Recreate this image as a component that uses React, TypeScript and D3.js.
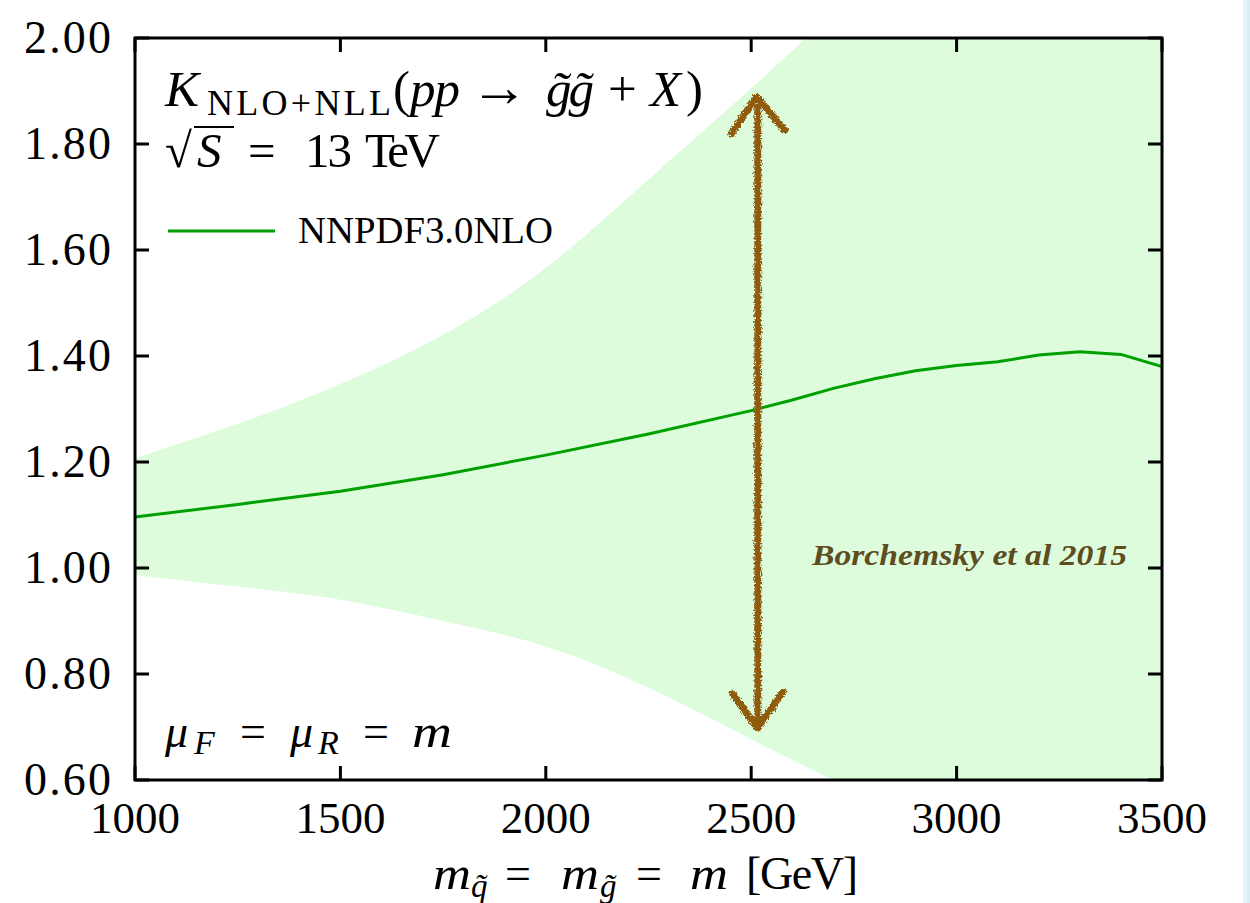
import React from "react";
import * as d3 from "d3";

// ---- data ----
const bandMass = [1000, 1250, 1500, 1750, 2000, 2250, 2500, 2750, 3000, 3250, 3500];
const bandUpper = [1.207, 1.272, 1.347, 1.44, 1.566, 1.733, 1.905, 2.085, 2.27, 2.46, 2.65];
const bandLower = [0.987, 0.965, 0.94, 0.9, 0.852, 0.774, 0.677, 0.58, 0.48, 0.38, 0.28];

const lineMass = [1000, 1250, 1500, 1750, 2000, 2250, 2500, 2600, 2700, 2800, 2900, 3000, 3100, 3200, 3300, 3400, 3500];
const lineK = [1.096, 1.12, 1.145, 1.176, 1.213, 1.253, 1.297, 1.317, 1.339, 1.357, 1.372, 1.382, 1.389, 1.402, 1.408, 1.403, 1.38];

const xTicks = [1000, 1500, 2000, 2500, 3000, 3500];
const yTicks = [0.6, 0.8, 1.0, 1.2, 1.4, 1.6, 1.8, 2.0];

// double-headed arrow annotation (data units)
const arrowShaft = [[2516, 1.87], [2516, 0.715]];
const arrowTopHead = [[2452, 1.82], [2513, 1.889], [2582, 1.826]];
const arrowBottomHead = [[2455, 0.762], [2515, 0.698], [2577, 0.766]];

const W = 1250;
const H = 903;
const left = 135, right = 1162, top = 38, bottom = 780;

export default function App() {
  const x = d3.scaleLinear().domain([1000, 3500]).range([left, right]);
  const y = d3.scaleLinear().domain([0.6, 2.0]).range([bottom, top]);

  const bandData = bandMass.map((m, i) => ({ m, lo: bandLower[i], hi: bandUpper[i] }));
  const area = d3
    .area<{ m: number; lo: number; hi: number }>()
    .x((d) => x(d.m))
    .y0((d) => y(d.lo))
    .y1((d) => y(d.hi))
    .curve(d3.curveNatural);

  const lineData = lineMass.map((m, i) => ({ m, k: lineK[i] }));
  const line = d3
    .line<{ m: number; k: number }>()
    .x((d) => x(d.m))
    .y((d) => y(d.k))
    .curve(d3.curveLinear);

  const pl = d3
    .line<number[]>()
    .x((d) => x(d[0]))
    .y((d) => y(d[1]));

  const serif = "'Liberation Serif', 'DejaVu Serif', serif";
  const tickLen = 14;
  const arrowColor = "#8f5c0e";

  return (
    <svg
      width={W}
      height={H}
      style={{ position: "absolute", left: 0, top: 0, background: "#ffffff" }}
      fontFamily={serif}
    >
      <defs>
        <clipPath id="plotClip">
          <rect x={left} y={top} width={right - left} height={bottom - top} />
        </clipPath>
        <filter id="rough" x="-20%" y="-5%" width="140%" height="110%">
          <feTurbulence type="fractalNoise" baseFrequency="0.6" numOctaves="3" seed="5" result="noise" />
          <feDisplacementMap in="SourceGraphic" in2="noise" scale="6" xChannelSelector="R" yChannelSelector="G" />
        </filter>
        <linearGradient id="edge" x1="0" x2="1" y1="0" y2="0">
          <stop offset="0" stopColor="#e6f4f6" />
          <stop offset="1" stopColor="#d8eef2" />
        </linearGradient>
      </defs>

      <rect x={0} y={0} width={W} height={H} fill="#ffffff" />
      <rect x={1243} y={0} width={7} height={H} fill="url(#edge)" />

      {/* band */}
      <g clipPath="url(#plotClip)">
        <path d={area(bandData) || ""} fill="#dcfcdc" />
        <path d={line(lineData) || ""} fill="none" stroke="#00a000" strokeWidth={3} />
      </g>

      {/* frame */}
      <rect x={left} y={top} width={right - left} height={bottom - top} fill="none" stroke="#000" strokeWidth={3} />

      {/* ticks */}
      {xTicks.map((t) => (
        <g key={"x" + t}>
          <line x1={x(t)} x2={x(t)} y1={bottom} y2={bottom - tickLen} stroke="#000" strokeWidth={3} />
          <line x1={x(t)} x2={x(t)} y1={top} y2={top + tickLen} stroke="#000" strokeWidth={3} />
          <text x={x(t)} y={833} textAnchor="middle" fontSize={45} fill="#000">
            {t}
          </text>
        </g>
      ))}
      {yTicks.map((t) => (
        <g key={"y" + t}>
          <line x1={left} x2={left + tickLen} y1={y(t)} y2={y(t)} stroke="#000" strokeWidth={3} />
          <line x1={right} x2={right - tickLen} y1={y(t)} y2={y(t)} stroke="#000" strokeWidth={3} />
          <text x={111} y={y(t) + 15} textAnchor="end" fontSize={46} fill="#000" textLength={87} lengthAdjust="spacing">
            {t.toFixed(2)}
          </text>
        </g>
      ))}

      {/* title */}
      <text y={106} fontSize={51} fill="#000">
        <tspan x={165} fontStyle="italic">K</tspan>
        <tspan x={207} fontSize={36} dy={9} textLength={184} lengthAdjust="spacing">NLO+NLL</tspan>
        <tspan x={393} dy={-9}>(</tspan>
        <tspan x={410} fontStyle="italic" textLength={50} lengthAdjust="spacing">pp</tspan>
        <tspan x={470} fontSize={56} textLength={58} lengthAdjust="spacingAndGlyphs">→</tspan>
        <tspan x={543} fontStyle="italic" textLength={48} lengthAdjust="spacing">g̃g̃</tspan>
        <tspan x={608}>+</tspan>
        <tspan x={650} fontStyle="italic">X</tspan>
        <tspan x={686}>)</tspan>
      </text>
      <text y={167} fontSize={49} fill="#000">
        <tspan x={165}>√</tspan>
        <tspan x={197} fontStyle="italic">S</tspan>
        <tspan x={248}>=</tspan>
        <tspan x={305} textLength={47} lengthAdjust="spacing">13</tspan>
        <tspan x={365} textLength={75} lengthAdjust="spacing">TeV</tspan>
      </text>
      <line x1={194} x2={234} y1={127} y2={127} stroke="#000" strokeWidth={2.2} />

      {/* legend */}
      <line x1={168} x2={275} y1={231} y2={231} stroke="#00a000" strokeWidth={3} />
      <text x={298} y={243} fontSize={38} fill="#000" textLength={255} lengthAdjust="spacingAndGlyphs">
        NNPDF3.0NLO
      </text>

      {/* scale note */}
      <text y={747} fontSize={46} fill="#000">
        <tspan x={165} fontStyle="italic">μ</tspan>
        <tspan x={194} fontStyle="italic" fontSize={34} dy={7}>F</tspan>
        <tspan x={240} dy={-7}>=</tspan>
        <tspan x={290} fontStyle="italic">μ</tspan>
        <tspan x={318} fontStyle="italic" fontSize={34} dy={7}>R</tspan>
        <tspan x={363} dy={-7}>=</tspan>
        <tspan x={412} fontStyle="italic" textLength={40} lengthAdjust="spacingAndGlyphs">m</tspan>
      </text>

      {/* x label */}
      <text y={889} fontSize={46} fill="#000">
        <tspan x={433} fontStyle="italic" textLength={38} lengthAdjust="spacingAndGlyphs">m</tspan>
        <tspan x={471} fontStyle="italic" fontSize={33} dy={8}>q̃</tspan>
        <tspan x={505} dy={-8}>=</tspan>
        <tspan x={561} fontStyle="italic" textLength={38} lengthAdjust="spacingAndGlyphs">m</tspan>
        <tspan x={600} fontStyle="italic" fontSize={33} dy={8}>g̃</tspan>
        <tspan x={636} dy={-8}>=</tspan>
        <tspan x={690} fontStyle="italic" textLength={38} lengthAdjust="spacingAndGlyphs">m</tspan>
        <tspan x={746} textLength={112} lengthAdjust="spacing">[GeV]</tspan>
      </text>

      {/* arrow annotation */}
      <g filter="url(#rough)" stroke={arrowColor} strokeWidth={7} fill="none" strokeLinecap="round" strokeLinejoin="round">
        <path d={pl(arrowShaft) || ""} />
        <path d={pl(arrowTopHead) || ""} />
        <path d={pl(arrowBottomHead) || ""} />
      </g>

      <text
        x={812}
        y={565}
        fontSize={29}
        fontStyle="italic"
        fontWeight="bold"
        fill="#5e4d1f"
        textLength={315}
        lengthAdjust="spacingAndGlyphs"
      >
        Borchemsky et al 2015
      </text>
    </svg>
  );
}
